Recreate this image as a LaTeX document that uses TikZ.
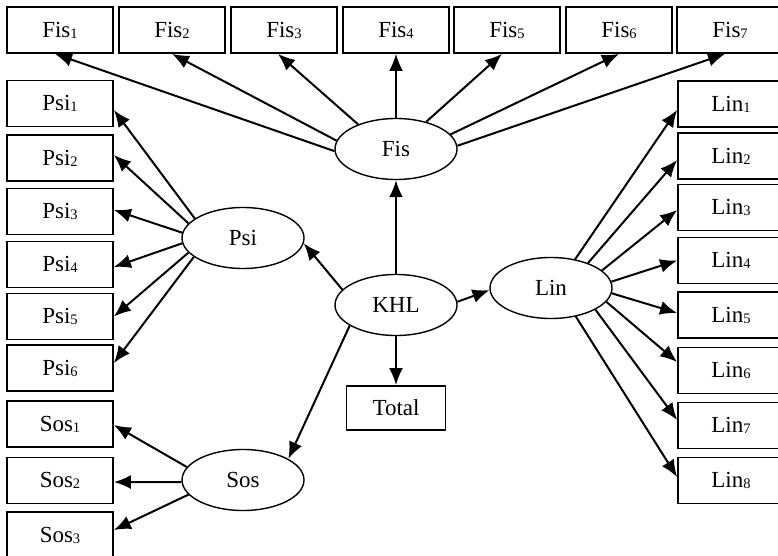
\documentclass[tikz,border=0pt]{standalone}
\usepackage{fontspec}
\setmainfont{Liberation Serif}
\usetikzlibrary{arrows.meta,shapes.geometric}
% small lowered index digit, as in Fis1, Psi2, ...
\newcommand\idx[1]{\raisebox{-1pt}{\fontsize{14.5}{14.5}\selectfont #1}}

\begin{document}
\begin{tikzpicture}[x=1pt,y=-1pt,
  every node/.style={font=\fontsize{23}{26}\selectfont},
  obs/.style={draw, line width=1.8pt, minimum width=106pt, minimum height=46pt, inner sep=0pt},
  lat/.style={draw, ellipse, line width=1.4pt, minimum width=122pt, minimum height=61pt, inner sep=0pt},
  link/.style={line width=2pt, -{Latex[length=17pt,width=14pt]}}]
\useasboundingbox (0,0) rectangle (778,556);
\clip (0,0) rectangle (778,556);

% latent factors
\node[lat] (fis) at (396,149) {Fis};
\node[lat] (psi) at (243,238) {Psi};
\node[lat] (khl) at (396,305) {KHL};
\node[lat] (lin) at (551,288) {Lin};
\node[lat] (sos) at (243,480) {Sos};

% indicators
\node[obs] (fis1) at (60,30)    {Fis\idx{1}};
\node[obs] (fis2) at (172,30)   {Fis\idx{2}};
\node[obs] (fis3) at (284,30)   {Fis\idx{3}};
\node[obs] (fis4) at (396,30)   {Fis\idx{4}};
\node[obs] (fis5) at (507,30)   {Fis\idx{5}};
\node[obs] (fis6) at (619,30)   {Fis\idx{6}};
\node[obs] (fis7) at (730,30)   {Fis\idx{7}};

\node[obs] (psi1) at (60,103.5) {Psi\idx{1}};
\node[obs] (psi2) at (60,158)   {Psi\idx{2}};
\node[obs] (psi3) at (60,211.5) {Psi\idx{3}};
\node[obs] (psi4) at (60,264.5) {Psi\idx{4}};
\node[obs] (psi5) at (60,316.5) {Psi\idx{5}};
\node[obs] (psi6) at (60,368)   {Psi\idx{6}};

\node[obs] (sos1) at (60,424)   {Sos\idx{1}};
\node[obs] (sos2) at (60,480.5) {Sos\idx{2}};
\node[obs] (sos3) at (60,535)   {Sos\idx{3}};

\node[obs] (lin1) at (731,104)   {Lin\idx{1}};
\node[obs] (lin2) at (731,156)   {Lin\idx{2}};
\node[obs] (lin3) at (731,207.5) {Lin\idx{3}};
\node[obs] (lin4) at (731,260.5) {Lin\idx{4}};
\node[obs] (lin5) at (731,315)   {Lin\idx{5}};
\node[obs] (lin6) at (731,370.5) {Lin\idx{6}};
\node[obs] (lin7) at (731,425.5) {Lin\idx{7}};
\node[obs] (lin8) at (731,480.5) {Lin\idx{8}};

\node[obs, minimum width=99pt, minimum height=44pt] (total) at (396,408) {Total};

% structural paths
\draw[link] (khl.north) -- (fis.south);
\draw[link] (khl.164) -- (psi.355);
\draw[link] (khl.3) -- (lin.182);
\draw[link] (khl.south) -- (total.north);
\draw[link] (khl.204) -- (sos.25);

% loadings of Fis
\draw[link] (fis.182) -- ([xshift=-5pt]fis1.south);
\draw[link] (fis.172) -- (fis2.south);
\draw[link] (fis.147) -- ([xshift=-6pt]fis3.south);
\draw[link] (fis.north) -- (fis4.south);
\draw[link] (fis.42) -- ([xshift=-5pt]fis5.south);
\draw[link] (fis.15) -- (fis6.south);
\draw[link] (fis.3) -- ([xshift=-5pt]fis7.south);

% loadings of Psi
\draw[link] (psi.158) -- ([yshift=-6.5pt]psi1.east);
\draw[link] (psi.165) -- ([yshift=3pt]psi2.east);
\draw[link] (psi.175) -- ([yshift=1.5pt]psi3.east);
\draw[link] (psi.185) -- ([yshift=-2.5pt]psi4.east);
\draw[link] (psi.195) -- (psi5.east);
\draw[link] (psi.201) -- ([yshift=5pt]psi6.east);

% loadings of Sos
\draw[link] (sos.167) -- ([yshift=-1pt]sos1.east);
\draw[link] (sos.182) -- ([yshift=-1.5pt]sos2.east);
\draw[link] (sos.195) -- ([yshift=5pt]sos3.east);

% loadings of Lin
\draw[link] (lin.50)  -- ([yshift=-6pt]lin1.west);
\draw[link] (lin.34)  -- ([yshift=-4pt]lin2.west);
\draw[link] (lin.19)  -- ([yshift=-2.5pt]lin3.west);
\draw[link] (lin.6)   -- (lin4.west);
\draw[link] (lin.355) -- ([yshift=2pt]lin5.west);
\draw[link] (lin.346) -- ([yshift=8.5pt]lin6.west);
\draw[link] (lin.334) -- ([yshift=5.5pt]lin7.west);
\draw[link] (lin.311) -- ([yshift=3.5pt]lin8.west);
\end{tikzpicture}
\end{document}
